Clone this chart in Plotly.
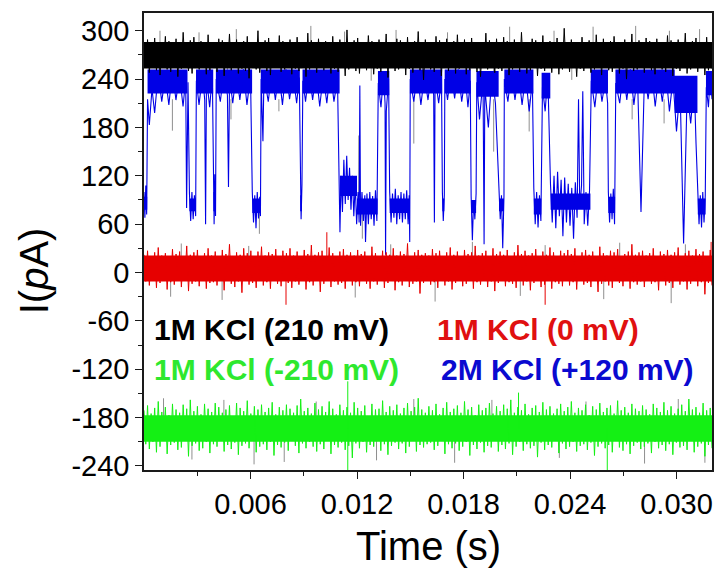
import numpy as np
import plotly.graph_objects as go
from itertools import zip_longest

# ---------------- data ----------------
T_END = 0.032  # s, end of the record

# 1M KCl (210 mV) - black trace: noise peaks / troughs (pA), evenly sampled in time
black_peaks = [
    284,289,282,291,286,280,293,287,283,290,285,298,281,288,292,284,287,279,295,286,
    283,290,288,282,296,285,289,281,287,293,284,286,300,283,288,291,282,285,294,287,
    281,289,284,292,286,283,297,288,282,290,285,287,280,293,286,289,284,301,283,288,
    291,285,282,294,287,284,289,281,296,286,283,290,288,285,292,282,287,299,284,289,
    286,281,293,288,284,290,283,287,295,282,289,285,291,284,286,280,297,288,283,290,
    285,292,287,282,289,284,298,286,281,290,288,283,294,285,287,282,291,286,303,284,
    289,283,286,292,281,288,285,295,284,290,282,287,293,286,283,289,285,296,282,288,
    284,291,287,283,290,286,281,294,288,285,289,282,297,284,287,291,283,286,292,285]
black_troughs = [
    254,248,257,251,245,259,252,249,256,243,253,258,250,247,255,252,260,246,251,257,
    249,254,244,256,251,258,247,253,250,241,255,252,248,257,250,245,254,259,249,252,
    256,246,253,250,258,243,252,255,248,254,251,261,247,253,249,256,244,252,257,250,
    247,255,251,259,246,253,249,256,242,254,250,252,258,245,253,248,255,251,239,256,
    252,249,257,244,254,250,258,247,253,255,246,251,256,249,243,254,252,259,248,253,
    250,256,245,252,258,249,254,247,251,257,244,253,250,255,248,260,246,252,254,249,
    255,243,253,250,257,248,252,256,245,254,251,249,258,247,253,240,256,250,252,255,
    248,254,251,246,257,252,249,255,244,253,250,258,247,252,256,249,254,245,251,253]
black_core = (253, 286)
black_level = 270
black_gray_spikes = [(0.0009, 300), (0.0031, 298), (0.0052, 302), (0.0094, 306), (0.0113, 299),
                     (0.0142, 301), (0.0171, 298), (0.0206, 305), (0.0231, 300), (0.0253, 305),
                     (0.0277, 306), (0.0296, 300), (0.0313, 302), (0.0047, 236), (0.0128, 238),
                     (0.0158, 240), (0.0197, 237), (0.0241, 239), (0.0287, 236)]

# 1M KCl (0 mV) - red trace
red_peaks = [
    22,27,19,25,31,21,24,18,29,23,26,20,33,22,25,28,19,24,30,21,
    26,20,28,23,35,19,25,22,30,24,27,18,26,32,21,25,23,29,20,27,
    24,30,21,26,19,28,23,34,22,25,27,20,31,24,18,26,29,22,25,21,
    28,23,26,20,32,24,19,27,25,22,30,21,26,23,36,20,25,28,22,24,
    21,29,24,27,19,25,31,22,26,20,28,23,25,33,21,24,27,19,30,23,
    26,22,28,20,25,34,23,27,21,24,29,19,26,22,31,25,20,27,24,28,
    23,30,20,25,28,22,26,19,32,24,21,27,25,29,20,23,26,35,22,25,
    27,21,24,30,19,26,23,28,22,25,31,20,24,27,21,29,23,26,20,28]
red_troughs = [
    -11,-16,-8,-19,-13,-9,-21,-12,-15,-10,-18,-7,-23,-14,-11,-17,-9,-20,-13,-12,
    -16,-10,-22,-8,-14,-18,-11,-25,-9,-15,-13,-19,-7,-16,-12,-20,-10,-14,-17,-9,
    -13,-19,-11,-15,-8,-21,-12,-16,-10,-24,-14,-9,-18,-11,-15,-13,-20,-8,-16,-12,
    -17,-9,-14,-20,-11,-15,-7,-19,-13,-10,-22,-12,-16,-9,-18,-14,-11,-26,-13,-10,
    -15,-12,-19,-8,-16,-11,-21,-13,-9,-17,-14,-10,-20,-12,-15,-8,-18,-11,-23,-13,
    -10,-17,-12,-14,-19,-9,-16,-11,-22,-13,-8,-18,-15,-10,-20,-12,-14,-17,-9,-16,
    -12,-21,-10,-15,-13,-18,-8,-24,-14,-11,-16,-19,-9,-13,-17,-10,-20,-12,-15,-11,
    -18,-9,-14,-12,-22,-10,-16,-13,-19,-8,-15,-11,-21,-14,-10,-17,-12,-27,-13,-16]
red_core = (-11, 21)
red_level = 4
red_gray_spikes = [(0.0021, 36), (0.0059, 33), (0.0139, 35), (0.0185, 38), (0.0226, 34),
                   (0.0268, 37), (0.0305, 35), (0.0015, -30), (0.0044, -34), (0.0119, -31),
                   (0.0164, -36), (0.0212, -29), (0.0259, -33), (0.0297, -38)]
red_color_spikes = [(0.0103, 50), (0.0080, -40), (0.0226, -40), (0.03195, 38)]

# 1M KCl (-210 mV) - green trace
green_peaks = [
    -171,-165,-175,-168,-160,-173,-167,-177,-163,-170,-174,-164,-169,-158,-172,-166,-176,-163,-169,-173,
    -162,-167,-174,-170,-165,-178,-162,-168,-172,-159,-175,-166,-170,-164,-173,-168,-161,-176,-167,-171,
    -164,-169,-174,-165,-157,-172,-168,-175,-162,-170,-166,-173,-160,-169,-176,-164,-171,-167,-174,-161,
    -168,-172,-165,-179,-163,-170,-169,-159,-173,-166,-171,-164,-175,-168,-162,-172,-167,-156,-170,-174,
    -166,-171,-163,-176,-168,-161,-173,-169,-165,-174,-160,-170,-167,-177,-164,-171,-168,-162,-175,-166,
    -172,-164,-169,-158,-174,-167,-171,-163,-176,-168,-165,-173,-161,-170,-166,-175,-169,-163,-172,-167,
    -160,-174,-168,-171,-164,-177,-166,-170,-162,-173,-168,-165,-175,-159,-171,-167,-174,-163,-169,-172,
    -165,-170,-176,-163,-168,-173,-161,-171,-166,-175,-169,-164,-172,-157,-170,-167,-174,-162,-171,-168]
green_troughs = [
    -213,-219,-210,-223,-216,-208,-225,-214,-211,-220,-217,-209,-228,-215,-212,-221,-218,-210,-224,-213,
    -216,-207,-222,-214,-219,-211,-226,-215,-212,-218,-209,-223,-216,-213,-220,-210,-227,-214,-217,-211,
    -221,-208,-215,-224,-212,-218,-210,-216,-222,-213,-219,-209,-225,-214,-217,-211,-220,-215,-230,-212,
    -218,-210,-223,-214,-216,-209,-221,-213,-226,-215,-211,-219,-212,-224,-216,-208,-222,-214,-217,-213,
    -211,-220,-215,-209,-225,-213,-218,-212,-221,-216,-210,-227,-214,-219,-211,-223,-215,-217,-209,-222,
    -214,-219,-212,-226,-216,-210,-221,-213,-218,-215,-229,-211,-220,-214,-217,-209,-224,-212,-219,-216,
    -210,-222,-215,-213,-220,-211,-227,-216,-212,-218,-214,-223,-209,-217,-221,-213,-225,-215,-211,-219,
    -216,-212,-224,-210,-218,-214,-221,-213,-226,-211,-217,-215,-220,-209,-223,-216,-212,-228,-214,-218]
green_core = (-210, -177)
green_level = -194
green_gray_spikes = [(0.0011, -156), (0.0027, -232), (0.0045, -158), (0.0062, -238), (0.0079, -235),
                     (0.0097, -160), (0.0131, -233), (0.0152, -157), (0.0175, -236), (0.0196, -158),
                     (0.0234, -230), (0.0249, -160), (0.0282, -237), (0.0301, -157), (0.0316, -236)]
green_color_spikes = [(0.01148, -135), (0.01148, -246), (0.0261, -246), (0.0211, -149)]

# 2M KCl (+120 mV) - blue trace: (time s, current pA)
blue_trace = [
    (0.0, 100), (0.00005, 68), (0.0001, 108), (0.00015, 72),
    (0.0002, 215), (0.0003, 183), (0.00045, 228), (0.0006, 198), (0.0008, 248), (0.001, 212),
    (0.0012, 244), (0.0014, 208), (0.0016, 250), (0.0018, 214), (0.002, 246), (0.0022, 206),
    (0.00235, 240), (0.0024, 80), (0.00248, 236),
    (0.00256, 98), (0.00263, 64), (0.0027, 100), (0.00277, 66), (0.00284, 96), (0.00291, 70),
    (0.00295, 238), (0.0031, 208), (0.0033, 246), (0.00342, 214), (0.00347, 60), (0.00352, 242),
    (0.0037, 205), (0.00385, 245),
    (0.00391, 130), (0.00395, 60), (0.00399, 122), (0.00403, 70),
    (0.00407, 240), (0.0043, 212), (0.0045, 250), (0.0047, 220), (0.00476, 106), (0.00482, 244),
    (0.005, 210), (0.0052, 248), (0.0054, 214), (0.0056, 252), (0.0058, 208), (0.006, 245),
    (0.0061, 100), (0.00617, 62), (0.00624, 96), (0.00631, 55), (0.00638, 100), (0.00645, 67),
    (0.00652, 94), (0.00656, 70),
    (0.0066, 240), (0.0067, 163), (0.00676, 246), (0.007, 212), (0.0072, 250), (0.0074, 214),
    (0.0076, 248), (0.0078, 208), (0.008, 252), (0.0082, 215), (0.0084, 246), (0.0086, 210),
    (0.00875, 242),
    (0.0088, 95), (0.00885, 66), (0.0089, 110),
    (0.00895, 238), (0.0091, 212), (0.0093, 250), (0.0095, 214), (0.0097, 248), (0.0099, 206),
    (0.0101, 245), (0.0103, 210), (0.0105, 252), (0.0107, 212), (0.0109, 240),
    (0.01104, 50), (0.0111, 120), (0.01118, 75), (0.01126, 140), (0.01134, 85), (0.01142, 145),
    (0.0115, 90), (0.01158, 130), (0.01166, 78), (0.01174, 120), (0.01182, 70), (0.0119, 110),
    (0.01198, 60), (0.01206, 100), (0.01212, 62), (0.01216, 232), (0.0122, 58), (0.01228, 100),
    (0.01236, 64), (0.01244, 96), (0.01248, 38), (0.01256, 98), (0.01264, 60), (0.01272, 100),
    (0.0128, 66), (0.01288, 95), (0.01296, 58), (0.01304, 102), (0.01312, 64),
    (0.0132, 235), (0.01335, 205), (0.0135, 245), (0.01358, 210), (0.01361, 22), (0.01365, 200),
    (0.01378, 240),
    (0.01384, 100), (0.01392, 62), (0.014, 98), (0.01408, 68), (0.01416, 104), (0.01424, 60),
    (0.01432, 96), (0.0144, 66), (0.01448, 100), (0.01456, 62), (0.01464, 98), (0.01472, 66),
    (0.0148, 102), (0.01488, 60), (0.01494, 96), (0.01497, 38),
    (0.015, 240), (0.0152, 212), (0.0154, 248), (0.0156, 208), (0.0158, 245), (0.016, 214),
    (0.0162, 250), (0.01632, 220), (0.01636, 62), (0.0164, 244), (0.0166, 210), (0.01676, 240),
    (0.01681, 100), (0.01686, 64), (0.01692, 96),
    (0.01695, 240), (0.0171, 214), (0.0173, 250), (0.0175, 216), (0.0177, 252), (0.0179, 212),
    (0.0181, 244), (0.01825, 205), (0.01838, 238),
    (0.01843, 95), (0.0185, 40), (0.01857, 90), (0.01864, 66), (0.01871, 98),
    (0.01875, 236), (0.0189, 190), (0.0191, 240), (0.01916, 35), (0.0192, 230), (0.0194, 180),
    (0.0196, 246), (0.0198, 210),
    (0.02, 100), (0.02007, 66), (0.02014, 96), (0.02021, 30), (0.02028, 95),
    (0.0203, 240), (0.0205, 212), (0.0207, 250), (0.0209, 214), (0.0211, 248), (0.0213, 208),
    (0.0215, 245), (0.0217, 200), (0.02188, 238),
    (0.02196, 105), (0.02204, 60), (0.02212, 100), (0.0222, 56), (0.02228, 96), (0.02236, 64),
    (0.02245, 230), (0.0226, 200), (0.02275, 245), (0.02285, 150),
    (0.0229, 110), (0.023, 62), (0.0231, 120), (0.0232, 55), (0.0233, 125), (0.0234, 70),
    (0.0235, 115), (0.0236, 45), (0.0237, 118), (0.0238, 62), (0.0239, 110), (0.024, 58),
    (0.0241, 105), (0.0242, 42), (0.0243, 112), (0.0244, 68), (0.02448, 215), (0.02455, 80),
    (0.02465, 108), (0.02472, 225), (0.0248, 60), (0.0249, 100), (0.025, 58), (0.0251, 102),
    (0.0252, 238), (0.0254, 205), (0.0256, 248), (0.0258, 212), (0.026, 240), (0.02612, 210),
    (0.02616, 100), (0.02623, 62), (0.0263, 98), (0.02637, 66), (0.02644, 104), (0.02651, 60),
    (0.02658, 235), (0.0268, 210), (0.027, 250), (0.0272, 214), (0.0274, 252), (0.0276, 208),
    (0.0278, 246), (0.028, 75), (0.0282, 248), (0.0284, 215), (0.0286, 250), (0.0288, 206),
    (0.029, 245), (0.0292, 212), (0.0294, 250), (0.0296, 200), (0.0298, 240), (0.03, 175),
    (0.0302, 230), (0.0304, 36), (0.0305, 150), (0.0306, 225), (0.0308, 185), (0.031, 236),
    (0.0311, 160),
    (0.0312, 100), (0.03127, 60), (0.03134, 96), (0.03141, 56), (0.03148, 100), (0.03155, 62),
    (0.03162, 95),
    (0.03168, 230), (0.0318, 205), (0.0319, 245), (0.032, 215),
]
# dwell states of the blue trace: (start s, end s, core low pA, core high pA)
blue_states = [
    (0.0, 0.00018, 78, 94), (0.0002, 0.00245, 222, 252), (0.00256, 0.00291, 76, 92),
    (0.00293, 0.0039, 222, 252), (0.00391, 0.00403, 76, 100), (0.00405, 0.00609, 222, 252),
    (0.0061, 0.00656, 74, 92), (0.00658, 0.00878, 222, 252), (0.0088, 0.0089, 76, 96),
    (0.00893, 0.01102, 222, 252), (0.01104, 0.012, 95, 120), (0.012, 0.01316, 72, 92),
    (0.01318, 0.01382, 220, 250), (0.01384, 0.01495, 74, 92), (0.01498, 0.0168, 222, 252),
    (0.01681, 0.01692, 76, 92), (0.01694, 0.01841, 222, 252), (0.01843, 0.01871, 74, 90),
    (0.01873, 0.01998, 218, 250), (0.02, 0.02028, 76, 92), (0.0203, 0.02194, 222, 252),
    (0.02196, 0.02238, 72, 92), (0.0224, 0.02289, 216, 248), (0.02291, 0.02515, 78, 98),
    (0.02517, 0.02614, 222, 252), (0.02616, 0.02654, 74, 94), (0.02656, 0.0299, 222, 252),
    (0.0299, 0.03118, 198, 244), (0.0312, 0.03164, 72, 92), (0.03166, 0.032, 220, 250),
]
# gray excursions of the blue trace: (time s, from pA, to pA)
blue_gray_spikes = [(0.0016, 215, 176), (0.0049, 215, 190), (0.0076, 215, 200), (0.0123, 80, 42),
                    (0.0065, 80, 48), (0.0152, 215, 160), (0.0217, 215, 175), (0.0275, 215, 190),
                    (0.0293, 215, 185), (0.0197, 215, 150), (0.0121, 90, 170)]

# axis ticks
x_major = [0.006, 0.012, 0.018, 0.024, 0.030]
x_major_text = ["0.006", "0.012", "0.018", "0.024", "0.030"]
x_minor = [0.003, 0.009, 0.015, 0.021, 0.027]
y_major = [-240, -180, -120, -60, 0, 60, 120, 180, 240, 300]
y_major_text = ["-240", "-180", "-120", "-60", "0", "60", "120", "180", "240", "300"]
y_minor = [-210, -150, -90, -30, 30, 90, 150, 210, 270]

labels = ["1M KCl (210 mV)", "1M KCl (0 mV)", "1M KCl (-210 mV)", "2M KCl (+120 mV)"]

# ---------------- styles ----------------
C_BLACK = "#000000"
C_RED = "#e60000"
C_GREEN = "#14f014"
C_BLUE = "#0000e6"
C_GRAY = "#8f8f8f"
FONT = "Arial, 'Liberation Sans', sans-serif"


def interleave(peaks, troughs):
    out = []
    for p, q in zip_longest(peaks, troughs):
        if p is not None:
            out.append(p)
        if q is not None:
            out.append(q)
    return out


def vsegments(items):
    xs, ys = [], []
    for t, a, b in items:
        xs += [t, t, None]
        ys += [a, b, None]
    return xs, ys


def rects(items):
    xs, ys = [], []
    for t0, t1, lo, hi in items:
        xs += [t0, t1, t1, t0, t0, None]
        ys += [lo, lo, hi, hi, lo, None]
    return xs, ys


fig = go.Figure()


def add_line(xs, ys, color, width=1.0):
    fig.add_trace(go.Scatter(x=xs, y=ys, mode="lines", line=dict(color=color, width=width),
                             hoverinfo="skip", showlegend=False, connectgaps=False))


def add_fill(xs, ys, color):
    fig.add_trace(go.Scatter(x=xs, y=ys, mode="lines", fill="toself", fillcolor=color,
                             line=dict(width=0, color=color), hoverinfo="skip",
                             showlegend=False))


# gray excursions behind everything
gx, gy = vsegments([(t, black_level, v) for t, v in black_gray_spikes])
add_line(gx, gy, C_GRAY)
gx, gy = vsegments(blue_gray_spikes)
add_line(gx, gy, C_GRAY)
gx, gy = vsegments([(t, red_level, v) for t, v in red_gray_spikes])
add_line(gx, gy, C_GRAY)
gx, gy = vsegments([(t, green_level, v) for t, v in green_gray_spikes])
add_line(gx, gy, C_GRAY)

# blue trace
bx, by = rects(blue_states)
add_fill(bx, by, C_BLUE)
add_line([p[0] for p in blue_trace], [p[1] for p in blue_trace], C_BLUE, 1.1)

# uniform traces
for peaks, troughs, core, color in [(black_peaks, black_troughs, black_core, C_BLACK),
                                    (red_peaks, red_troughs, red_core, C_RED),
                                    (green_peaks, green_troughs, green_core, C_GREEN)]:
    vals = interleave(peaks, troughs)
    ts = np.linspace(0, T_END, len(vals))
    rx, ry = rects([(0, T_END, core[0], core[1])])
    add_fill(rx, ry, color)
    add_line(ts, vals, color, 1.0)

cx, cy = vsegments([(t, red_level, v) for t, v in red_color_spikes])
add_line(cx, cy, C_RED)
cx, cy = vsegments([(t, green_level, v) for t, v in green_color_spikes])
add_line(cx, cy, C_GREEN)

axis_common = dict(showline=True, linecolor="#1a1a1a", linewidth=1.5, mirror=True,
                   ticks="outside", ticklen=7, tickwidth=1.3, tickcolor="#1a1a1a",
                   showgrid=False, zeroline=False,
                   tickfont=dict(family=FONT, size=29, color="#000"))

fig.update_xaxes(range=[0, T_END], tickmode="array", tickvals=x_major, ticktext=x_major_text,
                 minor=dict(tickmode="array", tickvals=x_minor, ticks="outside", ticklen=4,
                            tickwidth=1.2, tickcolor="#1a1a1a"),
                 **axis_common)
fig.update_yaxes(range=[-245, 322], tickmode="array", tickvals=y_major, ticktext=y_major_text,
                 minor=dict(tickmode="array", tickvals=y_minor, ticks="outside", ticklen=4,
                            tickwidth=1.2, tickcolor="#1a1a1a"),
                 **axis_common)

ann = [
    dict(text=labels[0], x=0.00045, y=-70.8, font=dict(color="#000000")),
    dict(text=labels[1], x=0.0164, y=-70.8, font=dict(color="#e01010")),
    dict(text=labels[2], x=0.00045, y=-120.2, font=dict(color="#2ee82e")),
    dict(text=labels[3], x=0.0166, y=-120.2, font=dict(color="#0a0ad0")),
]
for a in ann:
    a["font"].update(family=FONT, size=30, weight="bold")
    fig.add_annotation(text="<b>%s</b>" % a["text"], x=a["x"], y=a["y"], xref="x", yref="y",
                       xanchor="left", yanchor="middle", showarrow=False, font=a["font"])

fig.add_annotation(text="Time (s)", x=0.5, y=-0.1656, xref="paper", yref="paper",
                   xanchor="center", yanchor="middle", showarrow=False,
                   font=dict(family=FONT, size=40, color="#000"))
fig.add_annotation(text="I(<i>p</i>A)", x=-0.1947, y=0.4357, xref="paper", yref="paper",
                   xanchor="center", yanchor="middle", showarrow=False, textangle=-90,
                   font=dict(family=FONT, size=40, color="#000"))

fig.update_layout(width=725, height=575, autosize=False,
                  margin=dict(l=144, r=11, t=11, b=105),
                  paper_bgcolor="white", plot_bgcolor="white", showlegend=False)

fig.write_html("out.html", config={"displayModeBar": False},
               post_script="document.body.style.margin='0px';document.body.style.overflow='hidden';")
